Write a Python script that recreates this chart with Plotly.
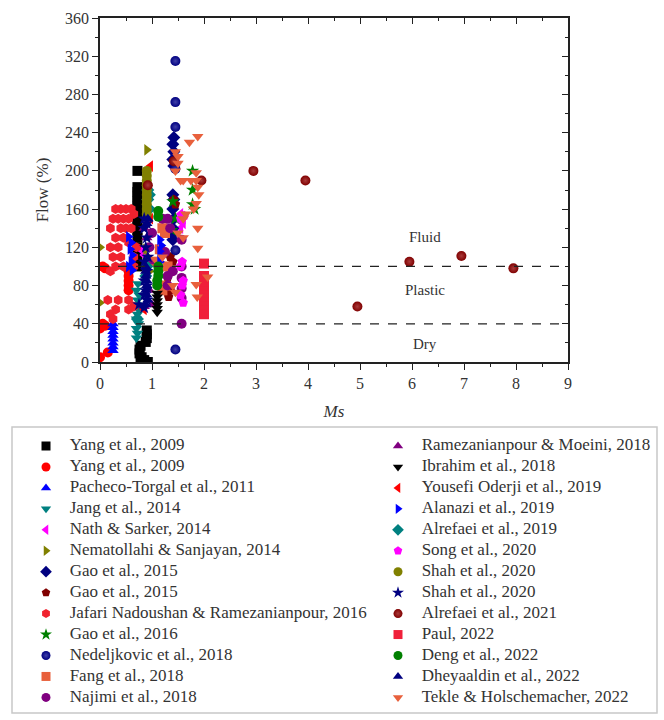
import plotly.graph_objects as go

# ---------------- data ----------------
yang09a_x = [0.72, 0.72, 0.72, 0.72, 0.72, 0.72, 0.72, 0.72, 0.72, 0.72, 0.72, 0.72, 0.72, 0.72, 0.72,
             0.9, 0.9, 0.9, 0.88, 0.78, 0.76, 0.76, 0.8, 0.85, 0.78, 0.92]
yang09a_y = [200, 183, 178, 173, 168, 163, 158, 153, 148, 143, 138, 130, 120, 110, 100,
             33, 29, 25, 21, 17, 13, 9, 5, 2, 0, 0]

yang09b_x = [0.0, 0.15, 0.0, 0.05, 0.1, 0.55, 0.55, 0.55, 0.55, 0.55, 0.05, 0.1]
yang09b_y = [5, 10, 35, 40, 38, 75, 80, 85, 90, 95, 100, 98]

pacheco_x = [0.25, 0.25, 0.25, 0.25, 0.25, 0.25, 0.25, 0.25]
pacheco_y = [12, 16, 20, 24, 28, 32, 36, 40]

jang_x = [0.7, 0.72, 0.7, 0.74, 0.7, 0.72, 0.74, 0.7, 0.72, 0.75, 0.7, 0.73]
jang_y = [25, 30, 35, 40, 45, 50, 55, 60, 65, 70, 75, 82]

nath_x = [1.55, 1.6, 1.6, 1.55, 0.8, 0.85]
nath_y = [155, 150, 145, 140, 117, 112]

nematollahi_x = [0.0, 0.0, 0.9, 0.88, 0.95, 0.92]
nematollahi_y = [120, 62, 222, 118, 95, 110]

gao15a_x = [1.42, 1.4, 1.42, 1.4, 1.42, 1.4, 1.42, 1.4, 1.42, 1.4, 1.42, 1.4]
gao15a_y = [235, 228, 220, 212, 205, 175, 170, 160, 150, 140, 135, 128]

gao15b_x = [1.35, 1.4, 1.3, 1.35, 1.32, 1.45, 1.42]
gao15b_y = [110, 105, 88, 75, 68, 165, 170]

jafari_x = [0.15, 0.35, 0.55, 0.3, 0.55, 0.2, 0.25, 0.65, 0.6, 0.5, 0.4, 0.3, 0.65, 0.25, 0.35,
            0.45, 0.55, 0.2, 0.4, 0.5, 0.6, 0.3, 0.45, 0.2, 0.35, 0.55, 0.25, 0.4, 0.3, 0.45,
            0.2, 0.65, 0.65, 0.7]
jafari_y = [65, 65, 65, 55, 55, 50, 45, 58, 160, 160, 160, 160, 155, 150, 150,
            150, 150, 140, 140, 140, 140, 130, 130, 120, 120, 125, 110, 110, 100, 100,
            95, 100, 110, 120]

gao16_x = [1.78, 1.78, 1.78, 1.4, 1.38, 1.45, 1.82]
gao16_y = [200, 180, 165, 168, 138, 150, 160]

nedeljkovic_x = [1.45, 1.45, 1.45, 1.45, 1.45, 1.45]
nedeljkovic_y = [315, 272, 246, 202, 117, 13]

fang_x = [1.2, 1.25, 1.15, 1.3, 1.25, 1.2, 1.05]
fang_y = [140, 135, 118, 100, 80, 75, 105]

najimi_x = [1.57, 1.57, 1.57, 1.57, 1.57, 1.57, 1.2, 1.3, 1.35, 1.25, 1.4, 1.3, 1.0, 0.95, 1.3]
najimi_y = [40, 128, 100, 88, 77, 67, 150, 150, 140, 115, 95, 90, 135, 120, 80]

ramezanianpour_x = [0.85, 0.9, 0.95, 0.95, 1.0, 0.85]
ramezanianpour_y = [140, 130, 105, 75, 60, 58]

ibrahim_x = [1.1, 1.1, 1.1, 1.1, 1.1, 1.1]
ibrahim_y = [72, 68, 64, 60, 56, 52]

yousefi_x = [0.97, 0.97, 0.85, 0.9]
yousefi_y = [205, 150, 55, 95]

alanazi_x = [0.55, 0.6, 0.58, 0.62, 0.6, 0.55, 0.62, 1.15, 1.18, 1.15, 1.18, 1.15]
alanazi_y = [131, 125, 118, 112, 105, 100, 96, 128, 122, 116, 110, 105]

alrefaei19_x = [0.92, 0.95, 0.92, 0.95, 0.9, 0.88, 0.72]
alrefaei19_y = [180, 175, 170, 160, 100, 90, 45]

song_x = [1.58, 1.55, 1.6, 1.58, 1.55, 1.6, 1.62, 1.55]
song_y = [105, 100, 85, 80, 70, 62, 153, 150]

shah20a_x = [0.9, 0.9, 0.9, 0.9, 0.9, 0.9, 0.9, 0.9, 0.9, 0.9]
shah20a_y = [200, 195, 190, 185, 180, 175, 170, 165, 160, 155]

shah20b_x = [0.85, 0.9, 0.85, 0.9, 0.88, 0.92, 0.85, 0.9, 0.85, 0.9, 0.88, 0.85, 0.9, 0.85, 0.75]
shah20b_y = [150, 145, 140, 130, 120, 110, 105, 95, 85, 80, 75, 70, 65, 57, 60]

alrefaei21_x = [2.95, 3.95, 4.95, 5.95, 6.95, 7.95, 1.95, 0.92, 1.42]
alrefaei21_y = [200, 190, 58, 105, 111, 98, 190, 185, 210]

paul_x = [2.0, 2.0, 2.0, 2.0, 2.0, 2.0, 2.0, 2.0, 2.0, 2.0, 2.0, 2.0]
paul_y = [103, 90, 86, 82, 78, 74, 70, 66, 62, 58, 54, 50]

deng_x = [1.12, 1.12, 1.12, 1.12, 1.12, 1.1, 1.1]
deng_y = [158, 152, 100, 95, 90, 85, 80]

dheyaaldin_x = [0.88, 0.88, 0.88, 0.9, 0.9, 0.88, 0.9, 0.92, 0.88, 0.92, 0.9]
dheyaaldin_y = [100, 95, 90, 85, 80, 75, 70, 65, 60, 150, 145]

tekle_x = [1.88, 1.72, 1.45, 1.5, 1.5, 1.45, 1.55, 1.6, 1.75, 1.85, 1.88, 1.85, 1.9, 1.85, 1.8,
           1.65, 1.6, 1.88, 1.88, 1.5, 1.6, 1.85, 1.87, 2.07, 1.2, 1.4, 1.45]
tekle_y = [236, 230, 220, 215, 208, 200, 190, 190, 190, 190, 183, 198, 175, 166, 160,
           155, 150, 140, 119, 135, 130, 81, 68, 89, 110, 80, 73]

# consistency thresholds (Flow %) and zone labels
thresholds = [100, 40]
zone_names = ["Fluid", "Plastic", "Dry"]
zone_y = [131, 75, 19]
zone_x = 6.25

x_ticks = [0, 1, 2, 3, 4, 5, 6, 7, 8, 9]
y_ticks = [0, 40, 80, 120, 160, 200, 240, 280, 320, 360]

# --------------- series definitions (label, data, symbol, colour, key column) ---------------
series = [
    ("Yang et al., 2009", yang09a_x, yang09a_y, "square", "#000000", 0),
    ("Yang et al., 2009", yang09b_x, yang09b_y, "circle", "#FF0000", 0),
    ("Pacheco-Torgal et al., 2011", pacheco_x, pacheco_y, "triangle-up", "#0000FF", 0),
    ("Jang et al., 2014", jang_x, jang_y, "triangle-down", "#008080", 0),
    ("Nath & Sarker, 2014", nath_x, nath_y, "triangle-left", "#FF00FF", 0),
    ("Nematollahi & Sanjayan, 2014", nematollahi_x, nematollahi_y, "triangle-right", "#808000", 0),
    ("Gao et al., 2015", gao15a_x, gao15a_y, "diamond", "#000080", 0),
    ("Gao et al., 2015", gao15b_x, gao15b_y, "pentagon", "#800000", 0),
    ("Jafari Nadoushan & Ramezanianpour, 2016", jafari_x, jafari_y, "hexagon", "#F0222E", 0),
    ("Gao et al., 2016", gao16_x, gao16_y, "star", "#008000", 0),
    ("Nedeljkovic et al., 2018", nedeljkovic_x, nedeljkovic_y, "circle", "#000080", 0),
    ("Fang et al., 2018", fang_x, fang_y, "square", "#E8603C", 0),
    ("Najimi et al., 2018", najimi_x, najimi_y, "circle", "#800080", 0),
    ("Ramezanianpour & Moeini, 2018", ramezanianpour_x, ramezanianpour_y, "triangle-up", "#800080", 1),
    ("Ibrahim et al., 2018", ibrahim_x, ibrahim_y, "triangle-down", "#000000", 1),
    ("Yousefi Oderji et al., 2019", yousefi_x, yousefi_y, "triangle-left", "#FF0000", 1),
    ("Alanazi et al., 2019", alanazi_x, alanazi_y, "triangle-right", "#0000FF", 1),
    ("Alrefaei et al., 2019", alrefaei19_x, alrefaei19_y, "diamond", "#008080", 1),
    ("Song et al., 2020", song_x, song_y, "pentagon", "#FF00FF", 1),
    ("Shah et al., 2020", shah20a_x, shah20a_y, "circle", "#808000", 1),
    ("Shah et al., 2020", shah20b_x, shah20b_y, "star", "#000080", 1),
    ("Alrefaei et al., 2021", alrefaei21_x, alrefaei21_y, "circle", "#800000", 1),
    ("Paul, 2022", paul_x, paul_y, "square", "#F0203A", 1),
    ("Deng et al., 2022", deng_x, deng_y, "circle", "#008000", 1),
    ("Dheyaaldin et al., 2022", dheyaaldin_x, dheyaaldin_y, "triangle-up", "#000080", 1),
    ("Tekle & Holschemacher, 2022", tekle_x, tekle_y, "triangle-down", "#E8603C", 1),
]
sphere_highlight = {"Nedeljkovic et al., 2018": "#4040A8", "Alrefaei et al., 2021": "#A83A3A"}

FONT = "Liberation Serif, Times New Roman, serif"
INK = "#333333"
W, H = 664, 720

# plot-area and key-box geometry in pixels
PL, PR, PT, PB = 100, 568, 18, 362
KEY_TOP, KEY_BOTTOM, KEY_LEFT, KEY_RIGHT = 427, 713, 12, 657
KEY_COL_PX = (46, 398)          # marker centre of each key column
KEY_ROW0_PX, KEY_ROW_STEP = 446, 20.95


def marker_for(name, sym, col, size):
    m = dict(symbol=sym, color=col, size=size, line=dict(width=0))
    if name in sphere_highlight:
        m["gradient"] = dict(type="radial", color=sphere_highlight[name])
    return m


fig = go.Figure()

for name, xs, ys, sym, col, _ in series:
    fig.add_trace(go.Scatter(
        x=xs, y=ys, mode="markers", name=name, marker=marker_for(name, sym, col, 10),
        showlegend=False, hoverinfo="x+y+name",
    ))

# threshold lines across the full x range
for t in thresholds:
    fig.add_trace(go.Scatter(
        x=[x_ticks[0], x_ticks[-1]], y=[t, t], mode="lines",
        line=dict(color="#222222", width=1.3, dash="dash"),
        showlegend=False, hoverinfo="skip",
    ))

# invisible trace that activates the top/right frame axes
fig.add_trace(go.Scatter(x=[x_ticks[0]], y=[y_ticks[0]], xaxis="x2", yaxis="y2",
                         mode="markers", marker=dict(opacity=0), showlegend=False,
                         hoverinfo="skip"))

# two-column key: one entry per series, placed by column and row index
rows_per_col = [0, 0]
for name, xs, ys, sym, col, kc in series:
    r = rows_per_col[kc]
    rows_per_col[kc] += 1
    fig.add_trace(go.Scatter(
        x=[kc], y=[r], xaxis="x3", yaxis="y3", mode="markers+text",
        text=["\u2002\u2002" + name], textposition="middle right",
        textfont=dict(family=FONT, size=17, color=INK),
        marker=marker_for(name, sym, col, 9), showlegend=False, hoverinfo="skip",
        cliponaxis=False,
    ))

for nm, yy in zip(zone_names, zone_y):
    fig.add_annotation(x=zone_x, y=yy, text=nm, showarrow=False,
                       font=dict(family=FONT, size=15, color=INK))

axis_common = dict(
    showline=True, linecolor="#222222", linewidth=1.5, showgrid=False, zeroline=False,
    tickcolor="#222222", ticklen=6, tickwidth=1.3,
    tickfont=dict(family=FONT, size=16, color=INK),
)
xdom = [PL / W, PR / W]
ydom = [1 - PB / H, 1 - PT / H]

# key axes: column 0/1 -> marker centres, row i -> KEY_ROW0 + i*step (rows run downward)
col_scale = KEY_COL_PX[1] - KEY_COL_PX[0]
x3_range = [-KEY_COL_PX[0] / col_scale, (W - KEY_COL_PX[0]) / col_scale]
y3_range = [(H - KEY_ROW0_PX) / KEY_ROW_STEP, -KEY_ROW0_PX / KEY_ROW_STEP]

fig.update_layout(
    width=W, height=H,
    margin=dict(l=0, r=0, t=0, b=0, autoexpand=False),
    paper_bgcolor="white", plot_bgcolor="rgba(0,0,0,0)",
    font=dict(family=FONT, color=INK),
    showlegend=False,
    xaxis=dict(domain=xdom, range=[0, 9], tickvals=x_ticks, ticks="outside",
               minor=dict(dtick=0.5, ticks="outside", ticklen=3, tickcolor="#222222"),
               title=dict(text="<i>Ms</i>", font=dict(family=FONT, size=17, color=INK),
                          standoff=14),
               **axis_common),
    yaxis=dict(domain=ydom, range=[0, 360], tickvals=y_ticks, ticks="outside",
               minor=dict(dtick=20, ticks="outside", ticklen=3, tickcolor="#222222"),
               title=dict(text="Flow (%)", font=dict(family=FONT, size=17, color=INK),
                          standoff=12),
               **axis_common),
    xaxis2=dict(domain=xdom, range=[0, 9], overlaying="x", side="top", tickvals=x_ticks,
                ticks="inside", showticklabels=False,
                minor=dict(dtick=0.5, ticks="inside", ticklen=3, tickcolor="#222222"),
                **axis_common),
    yaxis2=dict(domain=ydom, range=[0, 360], overlaying="y", side="right", tickvals=y_ticks,
                ticks="inside", showticklabels=False,
                minor=dict(dtick=20, ticks="inside", ticklen=3, tickcolor="#222222"),
                **axis_common),
    xaxis3=dict(domain=[0, 1], range=x3_range, visible=False, fixedrange=True),
    yaxis3=dict(domain=[0, 1], range=y3_range, visible=False, fixedrange=True, anchor="x3"),
)

# frame around the key
fig.add_shape(type="rect", xref="paper", yref="paper",
              x0=KEY_LEFT / W, x1=KEY_RIGHT / W,
              y0=1 - KEY_BOTTOM / H, y1=1 - KEY_TOP / H,
              line=dict(color="#C8C8C8", width=1.5), fillcolor="rgba(0,0,0,0)", layer="below")

fig.write_html("out.html")
